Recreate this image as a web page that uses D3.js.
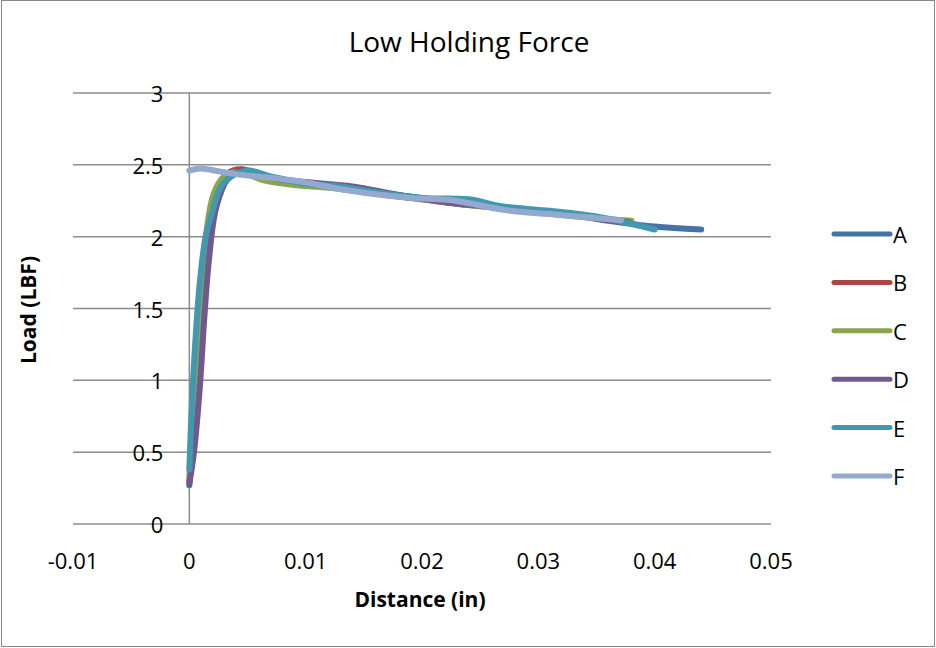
<!DOCTYPE html>
<html>
<head>
<meta charset="utf-8">
<script src="https://cdn.jsdelivr.net/npm/d3@7"></script>
<style>
  body { margin: 0; background: #fff; }
  svg text { font-family: "Open Sans", sans-serif; fill: #000; }
</style>
</head>
<body>
<svg id="chart" width="936" height="648"></svg>
<script>
// --- data ---
const seriesNames = ["A", "B", "C", "D", "E", "F"];
const seriesColors = ["#4572A7", "#AA4643", "#89A54E", "#71588F", "#4198AF", "#93A9CF"];

const seriesA = [[0, 0.27], [0.0003, 0.6], [0.0007, 1.1], [0.0011, 1.6], [0.0016, 2.0], [0.0024, 2.3],
  [0.0035, 2.43], [0.0048, 2.46], [0.007, 2.40], [0.010, 2.37], [0.013, 2.35], [0.016, 2.31],
  [0.020, 2.27], [0.024, 2.24], [0.028, 2.19], [0.032, 2.16], [0.036, 2.11], [0.040, 2.07], [0.044, 2.05]];
const seriesB = [[0, 0.30], [0.0004, 0.6], [0.0009, 1.1], [0.0013, 1.6], [0.0018, 2.0], [0.0025, 2.3],
  [0.0033, 2.44], [0.0045, 2.47], [0.0065, 2.41], [0.009, 2.37], [0.012, 2.35], [0.016, 2.30],
  [0.020, 2.26], [0.024, 2.22], [0.028, 2.19], [0.032, 2.16], [0.0375, 2.10]];
const seriesC = [[0, 0.34], [0.0003, 0.7], [0.0007, 1.2], [0.0011, 1.7], [0.0015, 2.05], [0.0021, 2.3],
  [0.003, 2.42], [0.0042, 2.45], [0.0065, 2.39], [0.009, 2.36], [0.012, 2.34], [0.016, 2.30],
  [0.020, 2.26], [0.024, 2.22], [0.028, 2.19], [0.032, 2.15], [0.038, 2.11]];
const seriesD = [[0, 0.28], [0.0004, 0.5], [0.0009, 0.95], [0.0013, 1.45], [0.0017, 1.85], [0.0023, 2.2],
  [0.0033, 2.40], [0.0048, 2.46], [0.007, 2.41], [0.010, 2.38], [0.014, 2.35], [0.018, 2.29],
  [0.022, 2.24], [0.026, 2.21], [0.030, 2.18], [0.034, 2.14], [0.0378, 2.10]];
const seriesE = [[0, 0.38], [0.0002, 0.8], [0.0005, 1.25], [0.0009, 1.68], [0.0014, 2.0], [0.0019, 2.15],
  [0.0029, 2.37], [0.0049, 2.46], [0.007, 2.42], [0.010, 2.37], [0.013, 2.35], [0.016, 2.31],
  [0.020, 2.27], [0.024, 2.26], [0.027, 2.21], [0.031, 2.18], [0.035, 2.14], [0.040, 2.05]];
const seriesF = [[0, 2.46], [0.001, 2.475], [0.0025, 2.455], [0.0045, 2.43], [0.007, 2.41], [0.0098, 2.38],
  [0.0127, 2.335], [0.0155, 2.30], [0.019, 2.27], [0.0224, 2.255], [0.0276, 2.18], [0.032, 2.15], [0.0371, 2.115]];

const xTicks = [-0.01, 0, 0.01, 0.02, 0.03, 0.04, 0.05];
const yTicks = [0, 0.5, 1, 1.5, 2, 2.5, 3];

const allSeries = [seriesA, seriesB, seriesC, seriesD, seriesE, seriesF];

// --- layout ---
const svg = d3.select("#chart");
const plot = { left: 73, right: 771, top: 93, bottom: 524 };

const x = d3.scaleLinear().domain([-0.01, 0.05]).range([plot.left, plot.right]);
const y = d3.scaleLinear().domain([0, 3]).range([plot.bottom, plot.top]);

// chart frame
svg.append("rect")
  .attr("x", 1.5).attr("y", 0.5)
  .attr("width", 933).attr("height", 646)
  .attr("fill", "#fff")
  .attr("stroke", "#888");

// horizontal gridlines
svg.append("g")
  .selectAll("line")
  .data(yTicks)
  .enter()
  .append("line")
  .attr("x1", plot.left).attr("x2", plot.right)
  .attr("y1", d => y(d)).attr("y2", d => y(d))
  .attr("stroke", "#8c8c8c")
  .attr("stroke-width", 1.5);

// vertical axis at x = 0
svg.append("line")
  .attr("x1", x(0)).attr("x2", x(0))
  .attr("y1", plot.top).attr("y2", plot.bottom)
  .attr("stroke", "#8c8c8c")
  .attr("stroke-width", 1.5);

// y tick labels
svg.append("g")
  .selectAll("text")
  .data(yTicks)
  .enter()
  .append("text")
  .attr("x", x(0) - 26)
  .attr("y", d => y(d))
  .attr("text-anchor", "end")
  .attr("dominant-baseline", "central")
  .style("font-size", "22px")
  .text(d => d);

// x tick labels
svg.append("g")
  .selectAll("text")
  .data(xTicks)
  .enter()
  .append("text")
  .attr("x", d => x(d))
  .attr("y", 560)
  .attr("text-anchor", "middle")
  .attr("dominant-baseline", "central")
  .style("font-size", "22px")
  .text(d => d);

// series lines (smoothed like the source)
const line = d3.line()
  .x(d => x(d[0]))
  .y(d => y(d[1]))
  .curve(d3.curveCatmullRom.alpha(0.5));

svg.append("g")
  .selectAll("path")
  .data(allSeries)
  .enter()
  .append("path")
  .attr("d", line)
  .attr("fill", "none")
  .attr("stroke", (d, i) => seriesColors[i])
  .attr("stroke-width", 6)
  .attr("stroke-linecap", "round")
  .attr("stroke-linejoin", "round");

// legend
const legend = svg.append("g")
  .selectAll("g")
  .data(seriesNames)
  .enter()
  .append("g")
  .attr("transform", (d, i) => `translate(834,${234 + i * 48.4})`);

legend.append("line")
  .attr("x1", 0).attr("x2", 56)
  .attr("stroke", (d, i) => seriesColors[i])
  .attr("stroke-width", 5)
  .attr("stroke-linecap", "round");

legend.append("text")
  .attr("x", 59)
  .attr("dominant-baseline", "central")
  .style("font-size", "22px")
  .text(d => d);

// titles
svg.append("text")
  .attr("x", 469).attr("y", 52)
  .attr("text-anchor", "middle")
  .style("font-size", "28px")
  .text("Low Holding Force");

svg.append("text")
  .attr("x", 420).attr("y", 607)
  .attr("text-anchor", "middle")
  .style("font-size", "21px")
  .style("font-weight", "bold")
  .text("Distance (in)");

svg.append("text")
  .attr("transform", "translate(36,310) rotate(-90)")
  .attr("text-anchor", "middle")
  .style("font-size", "21px")
  .style("font-weight", "bold")
  .text("Load (LBF)");
</script>
</body>
</html>
